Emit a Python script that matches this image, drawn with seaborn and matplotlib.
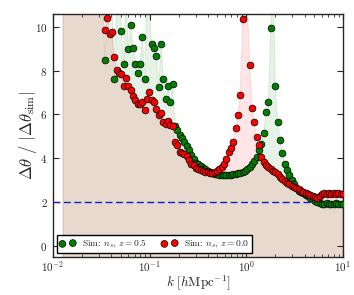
import numpy as np
import pandas as pd
import matplotlib
matplotlib.use("Agg")
import matplotlib.pyplot as plt
import seaborn as sns
from matplotlib.ticker import LogLocator, LogFormatterMathtext, NullFormatter

# k bins [h/Mpc]
k = [0.01269, 0.01341, 0.01418, 0.01499, 0.01585, 0.01675, 0.01771, 0.01872, 0.01979, 0.02093,
     0.02212, 0.02339, 0.02472, 0.02614, 0.02763, 0.02921, 0.03088, 0.03265, 0.03451, 0.03649,
     0.03857, 0.04078, 0.04311, 0.04557, 0.04818, 0.05093, 0.05384, 0.05692, 0.06017, 0.06361,
     0.06725, 0.07109, 0.07516, 0.07943, 0.08397, 0.08878, 0.09385, 0.09922, 0.1049, 0.1109,
     0.1172, 0.1239, 0.1310, 0.1385, 0.1464, 0.1548, 0.1636, 0.1730, 0.1829, 0.1933,
     0.2044, 0.2161, 0.2284, 0.2415, 0.2553, 0.2698, 0.2852, 0.3016, 0.3188, 0.3370,
     0.3563, 0.3766, 0.3981, 0.4209, 0.4449, 0.4704, 0.4973, 0.5257, 0.5557, 0.5875,
     0.6211, 0.6565, 0.6941, 0.7337, 0.7757, 0.8200, 0.8670, 0.9165, 0.9690, 1.024,
     1.083, 1.145, 1.210, 1.279, 1.352, 1.430, 1.511, 1.598, 1.689, 1.786,
     1.888, 1.996, 2.110, 2.231, 2.358, 2.493, 2.636, 2.786, 2.944, 3.113,
     3.291, 3.479, 3.678, 3.888, 4.111, 4.345, 4.595, 4.857, 5.133, 5.428,
     5.738, 6.066, 6.412, 6.778, 7.167, 7.576, 8.010, 8.468, 8.951, 9.462, 10.00]

# delta theta / |delta theta_sim|, z = 0.5 (green)
ratio_z05 = [55, 48, 42, 37, 33, 29, 26, 23, 21, 19,
             17, 15.5, 14.5, 13.5, 12.8, 12.2, 11.7, 11.2, 8.50, 11.5,
             12.0, 11.0, 7.60, 11.2, 11.5, 9.82, 8.28, 11.8, 8.97, 10.07,
             9.04, 8.32, 7.89, 8.32, 9.51, 7.60, 12.0, 10.8, 9.19, 9.04,
             8.66, 7.25, 9.23, 7.60, 6.68, 7.28, 6.57, 7.38, 5.45, 5.27,
             5.04, 4.90, 4.75, 4.55, 4.35, 4.13, 3.98, 3.80, 3.72, 3.65,
             3.55, 3.50, 3.42, 3.38, 3.32, 3.29, 3.26, 3.25, 3.25, 3.24,
             3.25, 3.24, 3.25, 3.26, 3.28, 3.30, 3.33, 3.37, 3.43, 3.50,
             3.60, 3.72, 3.88, 4.05, 4.36, 4.63, 5.13, 6.11, 6.55, 9.92,
             12.5, 7.31, 5.65, 4.85, 4.23, 3.75, 3.47, 3.21, 2.99, 2.80,
             2.62, 2.52, 2.45, 2.39, 2.33, 2.27, 2.20, 2.13, 2.06, 2.00,
             1.95, 1.92, 1.92, 1.93, 1.91, 1.92, 1.92, 1.93, 1.92, 1.91, 1.92]

# delta theta / |delta theta_sim|, z = 0.0 (red)
ratio_z00 = [60, 52, 46, 40, 36, 32, 28, 25, 23, 21,
             19, 17.5, 16, 15, 14, 13, 12, 11.2, 9.84, 10.38,
             9.69, 9.77, 8.60, 8.02, 7.87, 7.83, 7.28, 7.64, 7.28, 7.10,
             6.83, 6.64, 6.49, 6.45, 6.57, 6.19, 6.68, 7.02, 6.64, 6.57,
             6.26, 5.96, 6.07, 5.65, 5.55, 5.70, 5.50, 5.45, 4.74, 4.59,
             4.28, 4.23, 4.21, 4.10, 3.93, 3.75, 3.67, 3.57, 3.50, 3.47,
             3.41, 3.39, 3.37, 3.32, 3.32, 3.36, 3.43, 3.49, 3.60, 3.73,
             3.95, 4.30, 4.45, 4.72, 5.38, 5.97, 6.90, 10.35, 13.0, 11.0,
             8.24, 6.31, 5.65, 4.98, 4.59, 4.05, 3.82, 3.67, 3.58, 3.50,
             3.43, 3.37, 3.28, 3.15, 3.07, 2.96, 2.88, 2.80, 2.73, 2.67,
             2.62, 2.57, 2.52, 2.47, 2.41, 2.36, 2.30, 2.26, 2.22, 2.19,
             2.28, 2.35, 2.39, 2.38, 2.40, 2.38, 2.39, 2.37, 2.40, 2.38, 2.38]

threshold = 2.0

df = pd.DataFrame({"k": k, "z05": ratio_z05, "z00": ratio_z00})

sns.set_style("ticks")
plt.rcParams.update({
    "font.family": "serif",
    "font.serif": ["cmr10", "DejaVu Serif"],
    "mathtext.fontset": "cm",
    "axes.formatter.use_mathtext": True,
    "axes.linewidth": 1.0,
    "xtick.direction": "in",
    "ytick.direction": "in",
    "xtick.top": True,
    "ytick.right": True,
})

fig = plt.figure(figsize=(3.54, 2.95), dpi=100)
ax = fig.add_axes([0.1497, 0.1298, 0.8192, 0.8227])

# shaded regions under each curve
ax.fill_between(df["k"], -1, df["z05"], color="g", alpha=0.1, lw=0.8)
ax.fill_between(df["k"], -1, df["z00"], color="r", alpha=0.1, lw=0.8)

ax.axhline(threshold, color="#1a1acc", lw=1.0, dashes=(5, 2.5))

sns.scatterplot(data=df, x="k", y="z05", color="g", edgecolor="k", linewidth=0.5,
                s=24, ax=ax, label=r"Sim: $n_s$, $z=0.5$", zorder=3)
sns.scatterplot(data=df, x="k", y="z00", color="r", edgecolor="k", linewidth=0.5,
                s=24, ax=ax, label=r"Sim: $n_s$, $z=0.0$", zorder=4)

ax.set_xscale("log")
ax.set_xlim(0.01, 10)
ax.set_ylim(-0.5, 10.58)
ax.set_yticks([0, 2, 4, 6, 8, 10])
ax.xaxis.set_major_locator(LogLocator(base=10, numticks=10))
ax.xaxis.set_major_formatter(LogFormatterMathtext())
ax.xaxis.set_minor_locator(LogLocator(base=10, subs=np.arange(2, 10), numticks=20))
ax.xaxis.set_minor_formatter(NullFormatter())
ax.tick_params(axis="both", which="major", labelsize=8, length=4, width=0.8)
ax.tick_params(axis="x", which="major", pad=1.5)
ax.tick_params(axis="y", which="major", pad=4)
ax.tick_params(axis="x", which="minor", length=2, width=0.6)

ax.set_xlabel(r"$k\ [h{\rm Mpc}^{-1}]$", fontsize=9.5, labelpad=0)
ax.set_ylabel(r"$\Delta\theta\ /\ |\Delta\theta_{\rm sim}|$", fontsize=12, labelpad=-3)

leg = ax.legend(loc="lower left", ncol=2, scatterpoints=2, fontsize=6.8, frameon=True,
                fancybox=False, edgecolor="k", framealpha=1, borderaxespad=0.4,
                handlelength=1.7, handletextpad=0.7, columnspacing=1.5, borderpad=0.3)
leg.get_frame().set_linewidth(1.0)

fig.savefig("out.png", dpi=100)
